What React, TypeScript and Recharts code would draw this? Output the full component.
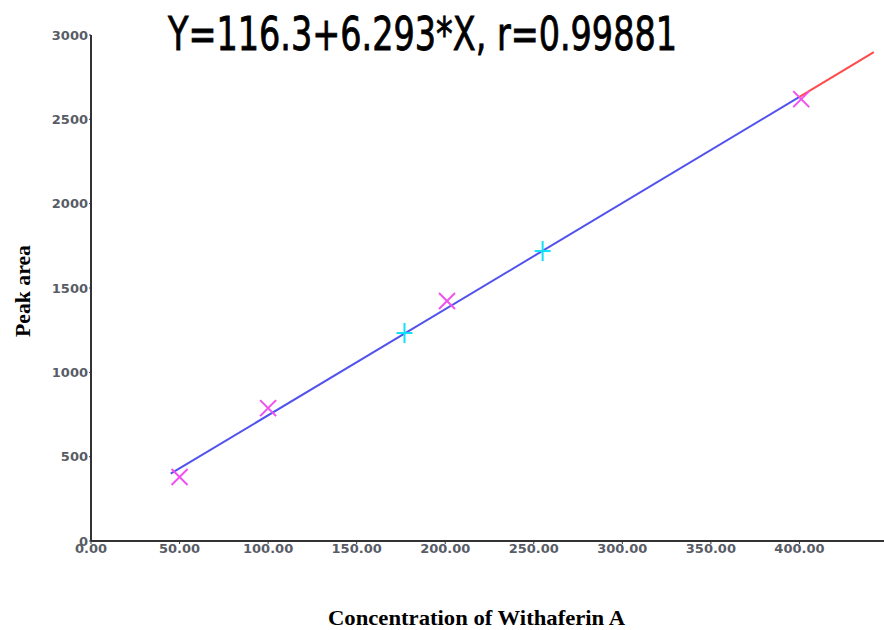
import { ComposedChart, Line, Scatter, XAxis, YAxis } from 'recharts'

const xTicks = [0, 50, 100, 150, 200, 250, 300, 350, 400]
const yTicks = [0, 500, 1000, 1500, 2000, 2500, 3000]

// calibration standards (magenta X) and check samples (cyan +)
const standardConc = [50, 100, 201, 401]
const standardArea = [379, 788, 1423, 2620]
const sampleConc = [177, 255]
const sampleArea = [1233, 1719]

// regression line Y=116.3+6.293*X, endpoints
const fitConc = [45, 400]
const fitArea = [399, 2633]
const extConc = [400, 442]
const extArea = [2633, 2898]

const toPoints = (xs: number[], ys: number[]) => xs.map((x, i) => ({ x, y: ys[i] }))

const standards = toPoints(standardConc, standardArea)
const samples = toPoints(sampleConc, sampleArea)
const fit = toPoints(fitConc, fitArea)
const ext = toPoints(extConc, extArea)

const tickStyle = { fill: '#585c66', fontSize: 13, fontWeight: 700, fontFamily: 'DejaVu Sans, sans-serif' }

function Cross(props: any) {
  const { cx, cy } = props
  return (
    <g stroke="#f050f0" strokeWidth={2}>
      <line x1={cx - 8} y1={cy - 8} x2={cx + 8} y2={cy + 8} />
      <line x1={cx - 8} y1={cy + 8} x2={cx + 8} y2={cy - 8} />
    </g>
  )
}

function Plus(props: any) {
  const { cx, cy } = props
  return (
    <g stroke="#10e0f8" strokeWidth={2}>
      <line x1={cx - 8} y1={cy} x2={cx + 8} y2={cy} />
      <line x1={cx} y1={cy - 10} x2={cx} y2={cy + 10} />
    </g>
  )
}

function App() {
  return (
    <div style={{ position: 'absolute', left: 0, top: 0, width: 884, height: 630, overflow: 'hidden', background: '#fff' }}>
      <ComposedChart width={900} height={630} margin={{ top: 35, right: 12, bottom: 59, left: 31 }}>
        <XAxis
          type="number"
          dataKey="x"
          domain={[0, 450]}
          ticks={xTicks}
          allowDataOverflow
          tickFormatter={(v) => Number(v).toFixed(2)}
          tick={tickStyle}
          tickSize={3}
          tickMargin={0}
          height={30}
          axisLine={{ stroke: '#333', strokeWidth: 2 }}
          tickLine={{ stroke: '#333' }}
        />
        <YAxis
          type="number"
          dataKey="y"
          domain={[0, 3000]}
          ticks={yTicks}
          tick={tickStyle}
          tickSize={2}
          tickMargin={1}
          width={60}
          axisLine={{ stroke: '#333', strokeWidth: 2 }}
          tickLine={{ stroke: '#333' }}
        />
        <Line data={fit} dataKey="y" stroke="#5252ee" strokeWidth={2} dot={false} isAnimationActive={false} />
        <Line data={ext} dataKey="y" stroke="#ff4a4a" strokeWidth={2} dot={false} isAnimationActive={false} />
        <Scatter data={standards} dataKey="y" shape={Cross} isAnimationActive={false} />
        <Scatter data={samples} dataKey="y" shape={Plus} isAnimationActive={false} />
      </ComposedChart>
      <svg width={884} height={630} style={{ position: 'absolute', left: 0, top: 0, pointerEvents: 'none' }}>
        <text
          x={168}
          y={50}
          fontSize={46}
          fontFamily="'Liberation Sans Narrow', 'DejaVu Sans Condensed', sans-serif"
          fill="#000"
          stroke="#000"
          strokeWidth={0.8}
          textLength={509}
          lengthAdjust="spacingAndGlyphs"
        >
          Y=116.3+6.293*X, r=0.99881
        </text>
        <text
          x={328}
          y={625}
          fontSize={22}
          fontWeight={700}
          fontFamily="'Liberation Serif', serif"
          fill="#000"
          textLength={297}
          lengthAdjust="spacingAndGlyphs"
        >
          Concentration of Withaferin A
        </text>
        <text
          transform="translate(30, 337) rotate(-90)"
          fontSize={22}
          fontWeight={700}
          fontFamily="'Liberation Serif', serif"
          fill="#000"
          textLength={92}
          lengthAdjust="spacingAndGlyphs"
        >
          Peak area
        </text>
      </svg>
    </div>
  )
}

export default App
